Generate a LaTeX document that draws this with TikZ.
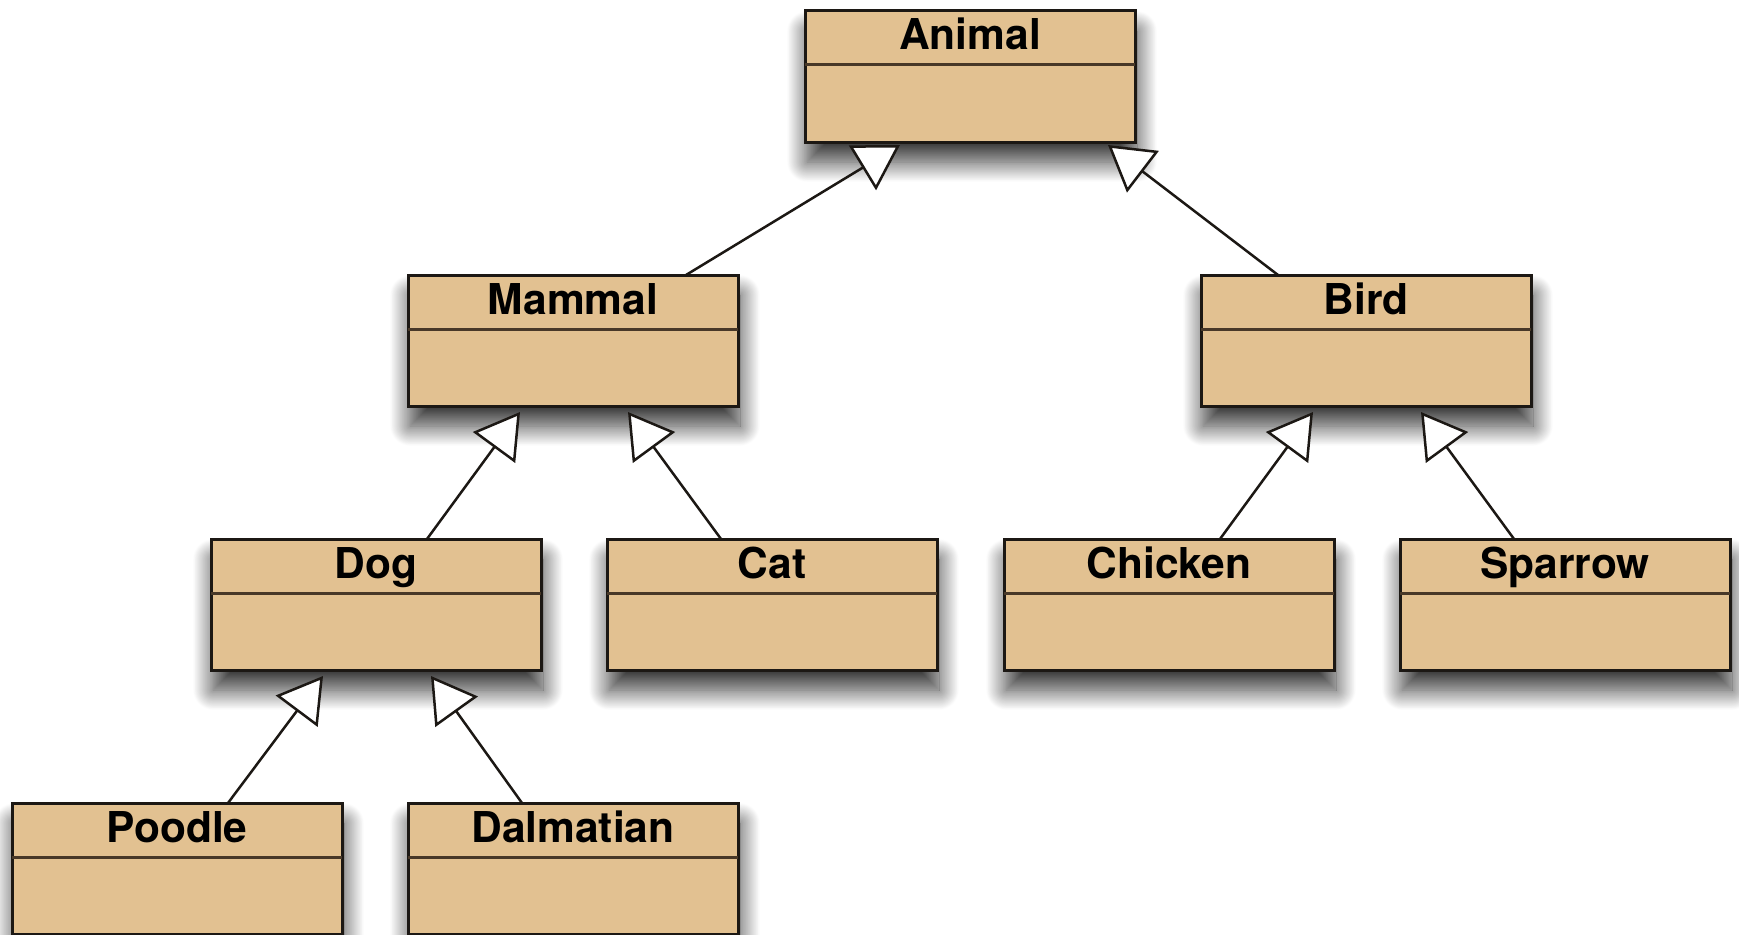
\documentclass[tikz,border=0pt]{standalone}
\usepackage{fontspec}
\setmainfont{TeX Gyre Heros}
\usetikzlibrary{arrows.meta,shadows.blur}
\definecolor{classfill}{RGB}{226,193,145}
\definecolor{classline}{RGB}{28,24,20}
\definecolor{dividerline}{RGB}{72,56,40}
\tikzset{
  classbox/.style={draw=classline, line width=3pt, fill=classfill,
    minimum width=330pt, minimum height=131pt, inner sep=0pt, outer sep=0pt,
    anchor=north west,
    blur shadow={shadow xshift=2pt, shadow yshift=-20pt, shadow blur radius=20pt,
      shadow blur steps=30, shadow opacity=80}},
  classname/.style={font=\fontsize{42.5}{50}\selectfont\bfseries, anchor=base, inner sep=0pt},
  divider/.style={draw=dividerline, line width=3pt},
  inherit/.style={draw=classline, line width=2.5pt,
    -{Triangle[length=44pt, width=52pt, fill=white, line width=2.5pt]}}
}
\newcommand{\umlclass}[4]{%
  \node[classbox] (#1) at (#2,#3) {};
  \node[classname] (#1-title) at ([yshift=-39pt]#1.north) {#4};
  \draw[divider] ([yshift=-54pt]#1.north west) -- ([yshift=-54pt]#1.north east);
}
\begin{document}
\begin{tikzpicture}[x=1pt, y=-1pt]
\useasboundingbox (0,0) rectangle (1739,934);
\umlclass{animal}{805}{11}{Animal}
\umlclass{mammal}{408}{275}{Mammal}
\umlclass{bird}{1201}{275}{Bird}
\umlclass{dog}{211}{539}{Dog}
\umlclass{cat}{607}{539}{Cat}
\umlclass{chicken}{1004}{539}{Chicken}
\umlclass{sparrow}{1400}{539}{Sparrow}
\umlclass{poodle}{12}{803}{Poodle}
\umlclass{dalmatian}{408}{803}{Dalmatian}
\draw[inherit] ([xshift=278pt]mammal.north west) -- ([xshift=95pt,yshift=-3pt]animal.south west);
\draw[inherit] ([xshift=77pt]bird.north west) -- ([xshift=303pt,yshift=-3pt]animal.south west);
\draw[inherit] ([xshift=216pt]dog.north west) -- ([xshift=112pt,yshift=-6pt]mammal.south west);
\draw[inherit] ([xshift=114pt]cat.north west) -- ([xshift=220pt,yshift=-6pt]mammal.south west);
\draw[inherit] ([xshift=216pt]chicken.north west) -- ([xshift=112pt,yshift=-6pt]bird.south west);
\draw[inherit] ([xshift=114pt]sparrow.north west) -- ([xshift=220pt,yshift=-6pt]bird.south west);
\draw[inherit] ([xshift=216pt]poodle.north west) -- ([xshift=112pt,yshift=-6pt]dog.south west);
\draw[inherit] ([xshift=114pt]dalmatian.north west) -- ([xshift=220pt,yshift=-6pt]dog.south west);
\end{tikzpicture}
\end{document}
